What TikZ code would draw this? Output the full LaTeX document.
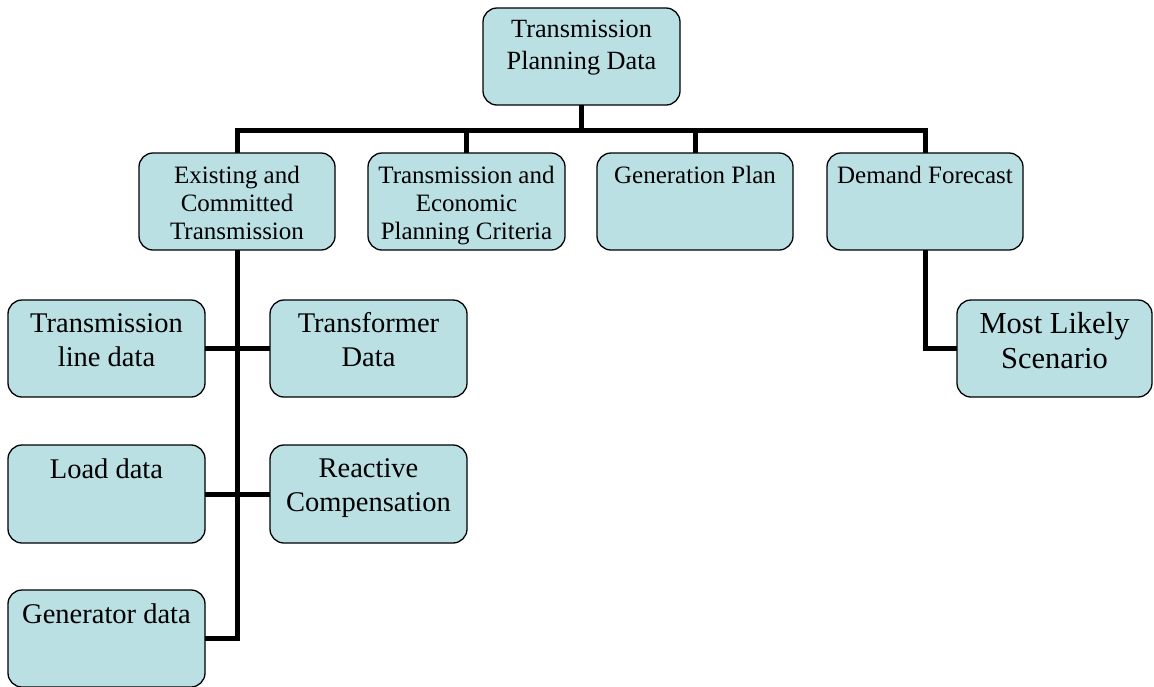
\documentclass[tikz,border=0pt]{standalone}
\usepackage{fontspec}
\setmainfont{Liberation Serif}
\definecolor{boxfill}{RGB}{186,224,228}
\newcommand{\boxtxt}[4]{\parbox[c][#2pt][t]{#1pt}{\centering\rule{0pt}{#3pt}#4}}
\tikzset{
  box/.style={draw=black, line width=1.3pt, fill=boxfill, rounded corners=14pt, inner sep=0pt, outer sep=0pt},
  conn/.style={draw=black, line width=5pt},
  ftop/.style={font=\fontsize{26.3}{32}\selectfont},
  fmid/.style={font=\fontsize{25}{28}\selectfont},
  flow/.style={font=\fontsize{28.5}{34.5}\selectfont},
  fml/.style={font=\fontsize{30.5}{35}\selectfont}
}
\begin{document}
\begin{tikzpicture}[x=1pt,y=-1pt]
\useasboundingbox (0,0) rectangle (1154,686);
% boxes
\node[box,ftop] (top) at (581.5,56.5) {\boxtxt{197}{97}{29}{Transmission\\Planning Data}};
\node[box,fmid] (b1) at (237,201.5) {\boxtxt{196}{97}{30}{Existing and\\Committed\\Transmission}};
\node[box,fmid] (b2) at (466.5,201.5) {\boxtxt{197}{97}{30}{Transmission and\\Economic\\Planning Criteria}};
\node[box,fmid] (b3) at (695,201.5) {\boxtxt{196}{97}{30}{Generation Plan}};
\node[box,fmid] (b4) at (925,201.5) {\boxtxt{196}{97}{30}{Demand Forecast}};
\node[box,flow] (tl) at (106.5,348.5) {\boxtxt{197}{97}{32}{Transmission\\line data}};
\node[box,flow] (tf) at (368.5,348.5) {\boxtxt{197}{97}{32}{Transformer\\Data}};
\node[box,flow] (ld) at (106.5,494) {\boxtxt{197}{98}{33}{Load data}};
\node[box,flow] (rc) at (368.5,494) {\boxtxt{197}{98}{32}{Reactive\\Compensation}};
\node[box,flow] (gd) at (106.5,638.5) {\boxtxt{197}{97}{33}{Generator data}};
\node[box,fml] (ml) at (1054.5,348.5) {\boxtxt{195}{97}{33}{Most Likely\\Scenario}};
% connectors
\coordinate (bus) at (0,130.5);
\draw[conn] (top.south) -- (top.south |- bus);
\draw[conn] (b1.north) -- (b1.north |- bus) -- (b4.north |- bus) -- (b4.north);
\draw[conn] (b2.north) -- (b2.north |- bus);
\draw[conn] (b3.north) -- (b3.north |- bus);
\draw[conn] (b1.south) -- (b1.south |- gd.east) -- (gd.east);
\draw[conn] (tl.east) -- (tf.west);
\draw[conn] (ld.east) -- (rc.west);
\draw[conn] (b4.south) |- (ml.west);
\end{tikzpicture}
\end{document}
